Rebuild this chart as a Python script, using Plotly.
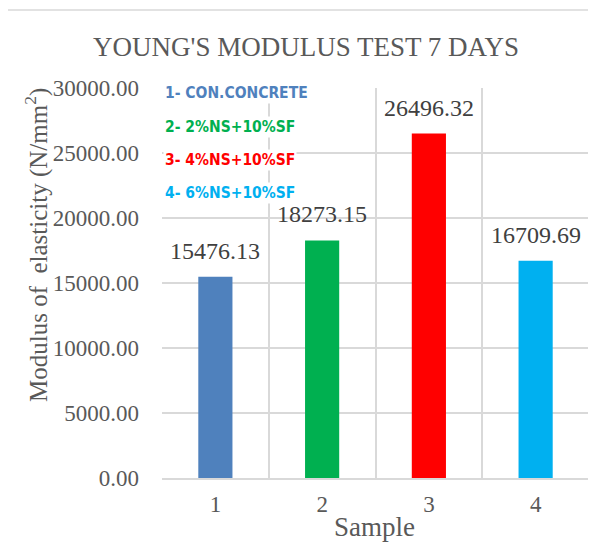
import plotly.graph_objects as go

samples = [1, 2, 3, 4]
modulus = [15476.13, 18273.15, 26496.32, 16709.69]
bar_colors = ["#4F81BD", "#00B050", "#FF0000", "#00B0F0"]
legend_labels = ["1- CON.CONCRETE", "2- 2%NS+10%SF", "3- 4%NS+10%SF", "4- 6%NS+10%SF"]
y_ticks = [0, 5000, 10000, 15000, 20000, 25000, 30000]

# page body has an 8px default margin; work in screen pixels and convert
OFF = 8
W, H = 596 - OFF, 542 - OFF
PL, PR, PT, PB = 162, 589, 88, 478          # plot area in screen pixels
L, R, T, B = PL - OFF, (W + OFF) - PR, PT - OFF, (H + OFF) - PB
pw, ph = PR - PL, PB - PT

def px_x(px):
    return (px - PL) / pw

def px_y(py):
    return (PB - py) / ph

serif = "Liberation Serif, Times New Roman, serif"
gray = "#595959"

fig = go.Figure()
fig.add_trace(go.Bar(
    x=samples, y=modulus,
    marker=dict(color=bar_colors, line=dict(width=0)),
    width=0.32,
    showlegend=False,
    hoverinfo="x+y",
))

for s, v in zip(samples, modulus):
    fig.add_annotation(
        x=s, y=v, xref="x", yref="y", text=f"{v:.2f}", showarrow=False,
        xanchor="center", yanchor="bottom", yshift=11,
        font=dict(family=serif, size=24, color="#404040"),
    )

fig.update_layout(
    width=W, height=H,
    margin=dict(l=L, r=R, t=T, b=B, autoexpand=False),
    paper_bgcolor="white", plot_bgcolor="white",
    font=dict(family=serif, color=gray),
    title=dict(text="YOUNG'S MODULUS TEST 7 DAYS", x=(306 - OFF) / W, xanchor="center",
               y=1 - (47 - OFF) / H, yanchor="middle",
               font=dict(family=serif, size=27, color=gray)),
    xaxis=dict(
        range=[0.5, 4.5], tickvals=samples, ticktext=[str(s) for s in samples],
        showgrid=False, zeroline=False, showline=True, linecolor="#D9D9D9", linewidth=1.5,
        tickfont=dict(family=serif, size=23, color=gray), ticks="", ticklabelstandoff=5,
        minor=dict(tickvals=[0.5, 1.5, 2.5, 3.5, 4.5], showgrid=True,
                   gridcolor="#D9D9D9", gridwidth=1.5, ticks=""),
        automargin=False,
    ),
    yaxis=dict(
        range=[0, 30000], tickvals=y_ticks, ticktext=[f"{v:.2f}" for v in y_ticks],
        showgrid=True, gridcolor="#D9D9D9", gridwidth=1.5, zeroline=False,
        tickfont=dict(family=serif, size=23, color=gray), ticks="", ticklabelstandoff=22,
        automargin=False,
    ),
)

# x-axis title
fig.add_annotation(
    text="Sample", xref="paper", yref="paper", x=px_x(374), y=px_y(527),
    xanchor="center", yanchor="middle", showarrow=False,
    font=dict(family=serif, size=27, color=gray),
)

# y-axis title
fig.add_annotation(
    text="Modulus of  elasticity (N/mm<sup>2</sup>)", textangle=-90,
    xref="paper", yref="paper", x=px_x(36), y=px_y(245),
    xanchor="center", yanchor="middle", showarrow=False,
    font=dict(family=serif, size=25, color=gray),
)

# legend text block
legend_y = [93, 127, 160, 193]
for lab, col, yy in zip(legend_labels, bar_colors, legend_y):
    fig.add_annotation(
        text=f"<b>{lab}</b>", xref="paper", yref="paper",
        x=px_x(163), y=px_y(yy), xanchor="left", yanchor="middle",
        showarrow=False, bgcolor="white",
        font=dict(family="DejaVu Sans Condensed, Liberation Sans Narrow, Roboto, sans-serif",
                  size=15.5, color=col),
    )

# outer chart border
fig.add_shape(type="rect", xref="paper", yref="paper",
              x0=px_x(5), x1=px_x(620), y0=px_y(560), y1=px_y(10),
              line=dict(color="#D9D9D9", width=1.5), fillcolor="rgba(0,0,0,0)", layer="below")

fig.write_html("out.html")
